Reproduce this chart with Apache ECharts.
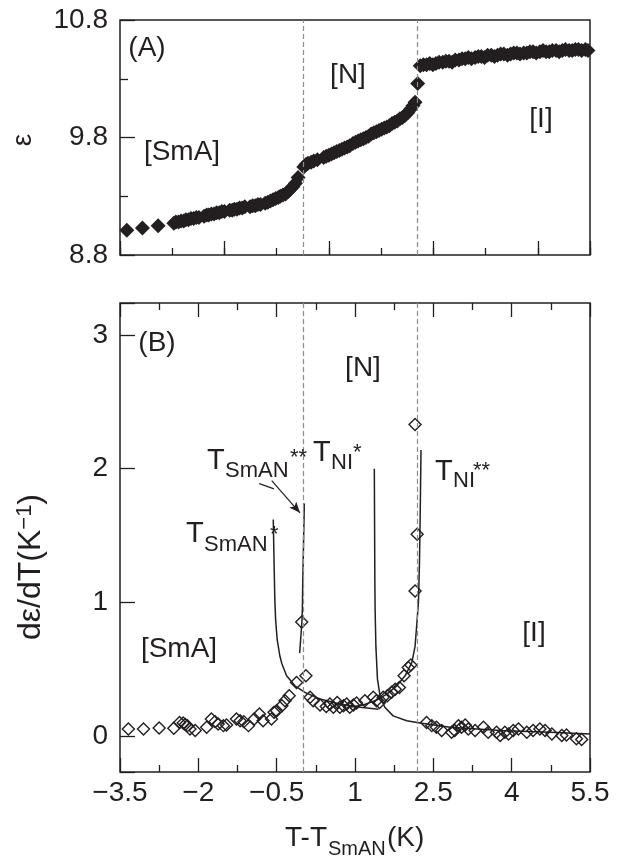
<!DOCTYPE html>
<html><head><meta charset="utf-8">
<script src="https://cdn.jsdelivr.net/npm/echarts@6/dist/echarts.min.js"></script>
<style>html,body{margin:0;padding:0;background:#fff}#c{width:621px;height:857px}</style>
</head><body><div id="c"></div><script>
// ---- axis ranges / ticks ----
const xMin = -3.5, xMax = 5.5;
const epsMin = 8.8, epsMax = 10.8;
const dMin = -0.27, dMax = 3.24;
const transitionX = [0, 2.2];

// ---- panel (A): epsilon vs T-T_SmAN ----
const epsSmA = [[-3.37,9.01],[-3.07,9.03],[-2.77,9.05],[-2.47,9.07],[-2.43,9.08],[-2.38,9.08],[-2.33,9.09],[-2.28,9.09],[-2.24,9.10],[-2.19,9.10],[-2.14,9.11],[-2.09,9.11],[-2.04,9.12],[-1.99,9.12],[-1.89,9.13],[-1.84,9.14],[-1.80,9.14],[-1.75,9.15],[-1.70,9.15],[-1.65,9.16],[-1.60,9.16],[-1.55,9.17],[-1.50,9.17],[-1.40,9.18],[-1.35,9.18],[-1.31,9.19],[-1.26,9.19],[-1.21,9.20],[-1.16,9.20],[-1.11,9.21],[-1.01,9.21],[-0.96,9.22],[-0.91,9.22],[-0.86,9.23],[-0.81,9.23],[-0.72,9.24],[-0.67,9.25],[-0.62,9.26],[-0.57,9.27],[-0.52,9.28],[-0.47,9.29],[-0.43,9.30],[-0.38,9.31],[-0.33,9.32],[-0.28,9.34],[-0.24,9.36],[-0.19,9.38],[-0.14,9.41],[-0.09,9.46]];
const epsN = [[0.02,9.55],[0.06,9.57],[0.10,9.58],[0.16,9.59],[0.21,9.60],[0.28,9.61],[0.40,9.63],[0.45,9.64],[0.50,9.65],[0.55,9.66],[0.60,9.67],[0.65,9.68],[0.70,9.69],[0.75,9.70],[0.80,9.71],[0.85,9.72],[0.90,9.73],[0.96,9.75],[1.01,9.76],[1.06,9.77],[1.11,9.78],[1.16,9.79],[1.21,9.80],[1.26,9.81],[1.31,9.83],[1.36,9.84],[1.41,9.85],[1.46,9.86],[1.51,9.87],[1.56,9.88],[1.61,9.89],[1.66,9.90],[1.71,9.92],[1.76,9.93],[1.81,9.94],[1.86,9.96],[1.91,9.97],[1.96,9.99],[2.01,10.01],[2.06,10.04],[2.11,10.07],[2.15,10.10]];
const epsJump = [[2.20,10.26]];
const epsI = [[2.25,10.41],[2.31,10.42],[2.37,10.42],[2.43,10.43],[2.49,10.42],[2.55,10.43],[2.61,10.44],[2.68,10.44],[2.74,10.45],[2.80,10.45],[2.86,10.44],[2.92,10.46],[2.99,10.46],[3.05,10.47],[3.11,10.47],[3.17,10.48],[3.23,10.47],[3.30,10.48],[3.36,10.49],[3.42,10.49],[3.48,10.48],[3.54,10.50],[3.61,10.50],[3.67,10.49],[3.73,10.50],[3.79,10.51],[3.85,10.51],[3.92,10.50],[3.98,10.51],[4.04,10.52],[4.10,10.52],[4.16,10.51],[4.23,10.52],[4.29,10.52],[4.35,10.53],[4.41,10.53],[4.47,10.52],[4.54,10.53],[4.60,10.54],[4.66,10.53],[4.72,10.53],[4.78,10.54],[4.85,10.54],[4.91,10.53],[4.97,10.54],[5.03,10.55],[5.10,10.54],[5.16,10.54],[5.22,10.55],[5.28,10.55],[5.34,10.54],[5.41,10.55],[5.46,10.54]];

// ---- panel (B): d(eps)/dT ----
const dSmA = [[-3.34,0.052],[-3.05,0.052],[-2.75,0.060],[-2.47,0.057],[-2.36,0.10],[-2.29,0.097],[-2.25,0.085],[-2.21,0.077],[-2.16,0.052],[-2.06,0.04],[-1.84,0.065],[-1.75,0.127],[-1.68,0.107],[-1.62,0.09],[-1.52,0.077],[-1.46,0.082],[-1.27,0.127],[-1.20,0.114],[-1.13,0.107],[-1.04,0.077],[-0.93,0.127],[-0.83,0.164],[-0.76,0.114],[-0.60,0.127],[-0.55,0.177],[-0.50,0.189],[-0.40,0.226],[-0.34,0.264],[-0.26,0.30],[-0.12,0.40]];
const dN = [[0.06,0.45],[0.14,0.29],[0.20,0.264],[0.33,0.231],[0.45,0.22],[0.52,0.239],[0.585,0.214],[0.66,0.25],[0.71,0.214],[0.78,0.226],[0.84,0.239],[0.90,0.214],[0.97,0.231],[1.03,0.246],[1.19,0.264],[1.35,0.289],[1.41,0.264],[1.47,0.25],[1.54,0.289],[1.62,0.30],[1.70,0.326],[1.77,0.35],[1.85,0.363],[1.94,0.45],[2.02,0.512],[2.07,0.53]];
const dPeaks = [[-0.02,0.853],[2.15,1.085],[2.19,1.51],[2.15,2.33]];
const dI = [[2.37,0.10],[2.47,0.077],[2.56,0.065],[2.66,0.04],[2.85,0.027],[2.91,0.04],[2.98,0.077],[3.04,0.065],[3.11,0.082],[3.17,0.052],[3.30,0.04],[3.46,0.065],[3.55,0.027],[3.71,0.027],[3.78,0.0025],[3.87,0.027],[3.94,0.015],[4.03,0.04],[4.13,0.052],[4.29,0.027],[4.41,0.04],[4.54,0.052],[4.64,0.04],[4.77,0.015],[4.96,0.0025],[5.05,0.007],[5.24,-0.022],[5.34,-0.027]];

// fitted curves
const fitSmAStar = [[-0.565,1.62],[-0.55,1.30],[-0.535,1.02],[-0.52,0.87],[-0.49,0.72],[-0.44,0.60],[-0.40,0.54],[-0.31,0.45],[-0.15,0.375],[0.04,0.326],[0.33,0.276],[0.71,0.239],[1.10,0.214],[1.45,0.20]];
const fitSmAStar2 = [[-0.06,0.62],[-0.03,0.78],[-0.015,0.87],[-0.008,0.95],[0.0,1.17],[0.015,1.45],[0.03,1.74]];
const fitNIStar = [[1.37,2.0],[1.38,1.17],[1.385,0.95],[1.40,0.67],[1.43,0.425],[1.48,0.30],[1.57,0.214],[1.73,0.15],[1.99,0.114],[2.245,0.097],[2.82,0.065],[3.78,0.04],[4.73,0.027],[5.5,0.015]];
const fitNIStar2 = [[0.9,0.215],[1.16,0.231],[1.42,0.27],[1.61,0.313],[1.80,0.375],[1.96,0.45],[2.09,0.55],[2.15,0.67],[2.19,0.87],[2.215,1.0],[2.235,1.3],[2.25,1.7],[2.264,2.14]];
const arrowTail = [[-0.833,1.888],[-0.551,1.849]];
const arrowShaft = [[-0.595,1.91],[-0.054,1.67]];

const FONT = "'Liberation Sans', Arial, Helvetica, sans-serif";
const INK = '#231f20';
const fmtMinus = v => { const r = Math.round(v*100)/100; return (r < 0 ? '\u2212' : '') + Math.abs(r); };

const chart = echarts.init(document.getElementById('c'), null, {renderer: 'canvas'});

const dashed = {
  silent: true, symbol: 'none', label: {show: false},
  lineStyle: {type: [5, 3], color: '#8c8c8c', width: 1.2},
  data: transitionX.map(v => ({xAxis: v}))
};
const fitLine = (data) => ({
  type: 'line', xAxisIndex: 2, yAxisIndex: 1, data, showSymbol: false, symbol: 'none',
  lineStyle: {color: INK, width: 1.5}, silent: true, z: 3
});
const openDiamond = (data) => ({
  type: 'scatter', xAxisIndex: 2, yAxisIndex: 1, data, symbol: 'diamond', symbolSize: 12,
  itemStyle: {color: 'rgba(255,255,255,0)', borderColor: INK, borderWidth: 1.4, opacity: 1}, z: 4
});
const filledDiamond = (data) => ({
  type: 'scatter', xAxisIndex: 0, yAxisIndex: 0, data, symbol: 'diamond', symbolSize: 15,
  itemStyle: {color: INK, opacity: 1}, z: 4
});

function txt(text, x, y, size, opts = {}) {
  return Object.assign({
    type: 'text', x, y, z: 10,
    style: {text, fontSize: size, fontFamily: FONT, fill: INK,
            align: opts.align || 'center', verticalAlign: opts.va || 'middle'}
  }, opts.rotation ? {rotation: opts.rotation} : {});
}

const tickLabelStyle = {color: INK, fontSize: 28, fontFamily: FONT};
const noLine = {show: false, onZero: false};

chart.setOption({
  animation: false,
  backgroundColor: '#fff',
  grid: [
    {left: 120, top: 20, width: 470, height: 235, show: true, borderColor: INK, borderWidth: 1.5, backgroundColor: 'transparent'},
    {left: 120, top: 303, width: 470, height: 469, show: true, borderColor: INK, borderWidth: 1.5, backgroundColor: 'transparent'}
  ],
  xAxis: [
    {gridIndex: 0, type: 'value', position: 'bottom', min: xMin, max: xMax, interval: 1,
     axisLine: noLine, splitLine: {show: false}, axisLabel: {show: false},
     axisTick: {show: true, inside: true, length: 7, lineStyle: {color: INK, width: 1.3}}},
    {gridIndex: 0, type: 'value', position: 'bottom', min: xMin, max: xMax, interval: 2,
     axisLine: noLine, splitLine: {show: false}, axisLabel: {show: false},
     axisTick: {show: true, inside: true, length: 14, lineStyle: {color: INK, width: 1.3}}},
    {gridIndex: 1, type: 'value', position: 'bottom', min: xMin, max: xMax, interval: 1.5,
     axisLine: noLine, splitLine: {show: false},
     axisLabel: Object.assign({margin: 7, formatter: fmtMinus}, tickLabelStyle),
     axisTick: {show: true, inside: true, length: 14, lineStyle: {color: INK, width: 1.3}},
     minorTick: {show: true, splitNumber: 2, length: 7, lineStyle: {color: INK, width: 1.3}}},
    {gridIndex: 1, type: 'value', position: 'top', min: xMin, max: xMax, interval: 1.5,
     axisLine: noLine, splitLine: {show: false}, axisLabel: {show: false},
     axisTick: {show: true, inside: true, length: 14, lineStyle: {color: INK, width: 1.3}},
     minorTick: {show: true, splitNumber: 2, length: 7, lineStyle: {color: INK, width: 1.3}}}
  ],
  yAxis: [
    {gridIndex: 0, type: 'value', position: 'left', min: epsMin, max: epsMax, interval: 1,
     axisLine: noLine, splitLine: {show: false},
     axisLabel: Object.assign({margin: 12, formatter: v => v.toFixed(1)}, tickLabelStyle),
     axisTick: {show: true, inside: true, length: 15, lineStyle: {color: INK, width: 1.3}},
     minorTick: {show: true, splitNumber: 2, length: 8, lineStyle: {color: INK, width: 1.3}}},
    {gridIndex: 1, type: 'value', position: 'left', min: dMin, max: dMax, minInterval: 1, maxInterval: 1, splitNumber: 4,
     axisLine: noLine, splitLine: {show: false},
     axisLabel: Object.assign({margin: 12, formatter: v => (Math.abs(v - Math.round(v)) < 1e-9 ? String(Math.round(v)) : '')}, tickLabelStyle),
     axisTick: {show: true, inside: true, length: 15, lineStyle: {color: INK, width: 1.3}}}
  ],
  series: [
    Object.assign(filledDiamond(epsSmA), {name: 'eps SmA', markLine: dashed}),
    filledDiamond(epsN),
    filledDiamond(epsJump),
    filledDiamond(epsI),
    Object.assign(fitLine(fitSmAStar), {markLine: {
      silent: true, label: {show: false}, lineStyle: {color: INK, width: 1.2, type: 'solid'},
      symbolSize: [7, 11],
      data: [
        [{coord: arrowTail[0], symbol: 'none'}, {coord: arrowTail[1], symbol: 'none'}],
        [{coord: arrowShaft[0], symbol: 'none'}, {coord: arrowShaft[1], symbol: 'arrow'}]
      ]}}),
    fitLine(fitSmAStar2),
    fitLine(fitNIStar),
    fitLine(fitNIStar2),
    Object.assign(openDiamond(dSmA), {markLine: dashed}),
    openDiamond(dN),
    openDiamond(dPeaks),
    openDiamond(dI)
  ],
  graphic: [
    // panel labels
    txt('(A)', 147, 48, 28),
    txt('[N]', 348, 75, 28),
    txt('[SmA]', 182, 152, 28),
    txt('[I]', 541, 119, 28),
    txt('(B)', 157, 343, 28),
    txt('[N]', 363, 368, 28),
    txt('[SmA]', 179, 649, 28),
    txt('[I]', 534, 633, 28),
    // transition temperature labels
    txt('T', 207, 461, 29, {align: 'left'}),
    txt('SmAN', 225, 471, 22, {align: 'left'}),
    txt('**', 290, 458, 22, {align: 'left'}),
    txt('T', 313, 453, 29, {align: 'left'}),
    txt('NI', 331, 463, 22, {align: 'left'}),
    txt('*', 353, 453, 22, {align: 'left'}),
    txt('T', 186, 534, 29, {align: 'left'}),
    txt('SmAN', 204, 545, 22, {align: 'left'}),
    txt('*', 270, 535, 22, {align: 'left'}),
    txt('T', 435, 472, 29, {align: 'left'}),
    txt('NI', 453, 481, 22, {align: 'left'}),
    txt('**', 473, 471, 22, {align: 'left'}),
    // axis titles
    txt('\u03b5', 23, 140, 28, {rotation: Math.PI / 2}),
    {type: 'text', x: 31, y: 567, rotation: Math.PI / 2, z: 10,
     style: {text: '{a|d\u03b5/dT(K}{b|\u22121}{a|)}', align: 'center', verticalAlign: 'middle', fill: INK,
             rich: {a: {fontSize: 32, fontFamily: FONT, fill: INK, lineHeight: 34},
                    b: {fontSize: 22, fontFamily: FONT, fill: INK, verticalAlign: 'top', lineHeight: 34}}}},
    txt('T-T', 285, 838, 28, {align: 'left'}),
    txt('SmAN', 328, 849, 20, {align: 'left'}),
    txt('(K)', 387, 838, 28, {align: 'left'})
  ]
});
</script></body></html>
